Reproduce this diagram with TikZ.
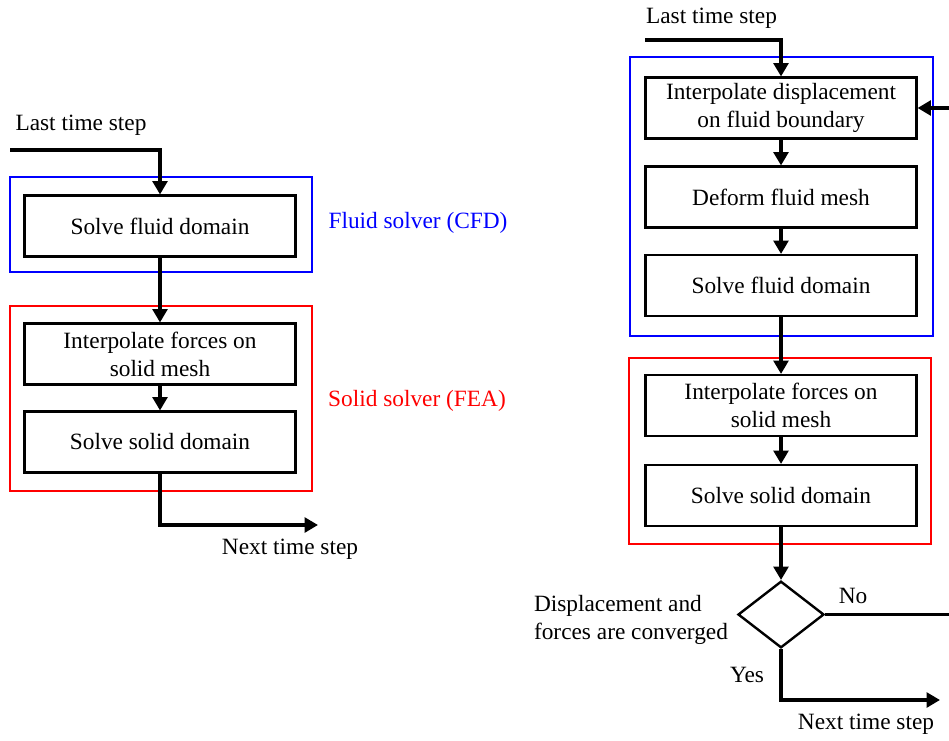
\documentclass[tikz,border=0pt]{standalone}
\usepackage{fontspec}
\setmainfont{Liberation Serif}
\usetikzlibrary{arrows.meta,shapes.geometric}
\begin{document}
\begin{tikzpicture}[
  x=0.75pt, y=-0.75pt,
  every node/.style={font=\fontsize{17.5}{21}\selectfont},
  procbox/.style={draw=black, line width=1.8pt, rectangle, minimum width=203pt,
    minimum height=45.5pt, inner sep=0pt, align=center},
  decision/.style={draw=black, line width=1.8pt, diamond, minimum width=64.5pt,
    minimum height=50pt, inner sep=0pt},
  flow/.style={line width=2.7pt, -{Triangle[width=11pt,length=10pt]}},
  fluidframe/.style={draw=blue, line width=1.7pt},
  solidframe/.style={draw=red, line width=1.7pt},
  lbl/.style={inner sep=0pt, align=left},
]
\useasboundingbox (0,0) rectangle (949,740);

% ---------- explicit (staggered) coupling ----------
\draw[fluidframe] (10,177) rectangle (312,272);
\draw[solidframe] (10,306) rectangle (312,491);

\node[procbox] (sf1) at (160,226) {Solve fluid domain};
\node[procbox] (if1) at (160,354) {Interpolate forces on\\solid mesh};
\node[procbox] (ss1) at (160,442) {Solve solid domain};

\node[lbl] (last1) at (81,125) {Last time step};
\node[lbl] (next1) at (290,549) {Next time step};
\node[lbl, text=blue] (cfd) at (418,223) {Fluid solver (CFD)};
\node[lbl, text=red] (fea) at (417,401) {Solid solver (FEA)};

\coordinate (in1) at (10,150);
\coordinate (out1) at (318,525);

\draw[flow] (in1) -| (sf1.north);
\draw[flow] (sf1.south) -- (if1.north);
\draw[flow] (if1.south) -- (ss1.north);
\draw[flow] (ss1.south) |- (out1);

% ---------- implicit (iterative) coupling ----------
\draw[fluidframe] (630,57) rectangle (933,336);
\draw[solidframe] (629,358) rectangle (931,544);

\node[procbox] (id2) at (781,108) {Interpolate displacement\\on fluid boundary};
\node[procbox] (dm2) at (781,197) {Deform fluid mesh};
\node[procbox] (sf2) at (781,285.5) {Solve fluid domain};
\node[procbox] (if2) at (781,405.5) {Interpolate forces on\\solid mesh};
\node[procbox] (ss2) at (781,495.5) {Solve solid domain};
\node[decision] (conv) at (781,614.5) {};

\node[lbl] (last2) at (711.5,18) {Last time step};
\node[lbl] (next2) at (866,724) {Next time step};
\node[lbl] (convtxt) at (631,620) {Displacement and\\forces are converged};
\node[lbl] (no) at (853,596) {No};
\node[lbl] (yes) at (747,675) {Yes};

\coordinate (in2) at (645,40);
\coordinate (out2) at (940,700);
\coordinate (loop) at (953,614.5);

\draw[flow] (in2) -| (id2.north);
\draw[flow] (id2.south) -- (dm2.north);
\draw[flow] (dm2.south) -- (sf2.north);
\draw[flow] (sf2.south) -- (if2.north);
\draw[flow] (if2.south) -- (ss2.north);
\draw[flow] (ss2.south) -- (conv.north);
\draw[flow] (conv.south) |- (out2);
\draw[flow] (conv.east) -- (loop) |- (id2.east);
\end{tikzpicture}
\end{document}
